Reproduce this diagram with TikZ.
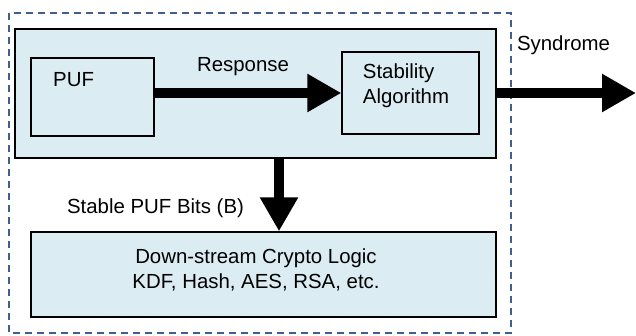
\documentclass[tikz,border=0pt]{standalone}
\usepackage{fontspec}
\setmainfont{Liberation Sans}
\usepackage{xcolor}
\usepackage{tikz}
\usetikzlibrary{arrows.meta,positioning,calc}
\definecolor{paleblue}{HTML}{DBEDF3}
\definecolor{frameblue}{HTML}{3E5F8F}
\tikzset{
  box/.style={draw, line width=1.3pt, fill=paleblue, inner sep=0pt},
  inbox/.style={draw, line width=1.3pt, inner sep=0pt},
  txt/.style={inner sep=0pt, align=left},
  fat/.style={-{Triangle[length=34pt, width=36pt]}, line width=10pt},
  frame/.style={draw=frameblue, line width=1.6pt, dash pattern=on 7pt off 5pt}
}

\begin{document}
\begin{tikzpicture}[x=1pt, y=-1pt, font=\fontsize{20.4}{25}\selectfont]
        \useasboundingbox (0,0) rectangle (636,335);
        % dashed border round the whole block
        \draw[frame] (9,13) rectangle (511,333);
        \node[box, minimum width=481pt, minimum height=129pt] (frontend) at (255.5,93.5) {};
        \node[inbox, minimum width=123pt, minimum height=78pt] (puf) at (92.5,97) {};
        \node[txt, anchor=west] (puftext) at (53,80) {PUF};
        \node[inbox, minimum width=137pt, minimum height=82pt] (stab) at (410.5,93) {};
        \node[txt] (stabtext) at (406,86) {Stability\\Algorithm};
        \node[box, minimum width=465pt, minimum height=85pt] (crypto) at (263.5,274.5) {};
        \node[txt, align=center] (cryptotext) at (256,269.5) {Down-stream Crypto Logic\\KDF, Hash, AES, RSA, etc.};
        % connectors
        \coordinate (out) at (636,93);
        \draw[fat] (puf.east |- stab.west) -- (stab.west);
        \draw[fat] (frontend.east |- stab.east) -- (out);
        \draw[fat] ([xshift=23.5pt]frontend.south) -- ([xshift=15.5pt]crypto.north);
        \node[txt] (resp) at (243,67) {Response};
        \node[txt] (synd) at (563.5,45) {Syndrome};
        \node[txt] (bits) at (155.5,208) {Stable PUF Bits (B)};
      \end{tikzpicture}
\end{document}
